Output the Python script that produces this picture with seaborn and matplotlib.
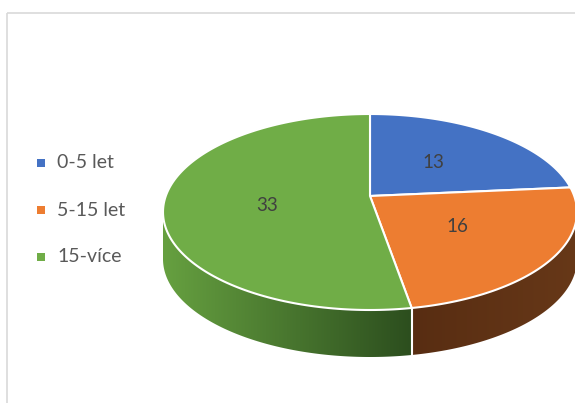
import numpy as np
import matplotlib
matplotlib.use("Agg")
import matplotlib.pyplot as plt
import seaborn as sns
from matplotlib.patches import Polygon, Rectangle
from matplotlib.colors import LinearSegmentedColormap

categories = ["0-5 let", "5-15 let", "15-více"]
values = [13, 16, 33]
top_colors = ["#4472C4", "#ED7D31", "#70AD47"]
side_colors = [("#2F528F", "#2F528F"), ("#582D12", "#673818"), ("#66A040", "#2C4E1E")]

sns.set_theme(style="white")
plt.rcParams["font.family"] = ["Lato", "DejaVu Sans"]

fig = plt.figure(figsize=(5.75, 4.03), dpi=100)
ax = fig.add_axes([0, 0, 1, 1])
ax.set_xlim(0, 575)
ax.set_ylim(403, 0)
ax.axis("off")

# chart frame
ax.add_patch(Rectangle((7, 13), 620, 440, fill=False, edgecolor="#D9D9D9", lw=1.2))

cx, cy, rx, ry, depth = 370, 212, 207, 98, 47
apex = (cx, cy - 16)


def pt(t, dy=0):
    t = np.radians(t)
    return cx + rx * np.sin(t), cy - ry * np.cos(t) + dy


total = sum(values)
bounds = np.concatenate([[0], np.cumsum(values) / total * 360])

# side walls (front half: 90..270 deg clockwise from top)
for i in range(len(values)):
    a0, a1 = max(bounds[i], 90), min(bounds[i + 1], 270)
    if a1 <= a0:
        continue
    ts = np.linspace(a0, a1, 120)
    top = [pt(t) for t in ts]
    bot = [pt(t, depth) for t in ts[::-1]]
    poly = Polygon(top + bot, closed=True, facecolor="none", edgecolor="none")
    ax.add_patch(poly)
    xs = [p[0] for p in top]
    cmap = LinearSegmentedColormap.from_list("s", list(side_colors[i]))
    grad = np.linspace(0, 1, 256).reshape(1, -1)
    im = ax.imshow(grad, cmap=cmap, aspect="auto",
                   extent=(min(xs), max(xs), max(p[1] for p in top) + depth + 2, min(p[1] for p in top) - 2),
                   zorder=2)
    im.set_clip_path(poly)
    ax.set_xlim(0, 575)
    ax.set_ylim(403, 0)

# white boundary lines on side
for b in bounds[1:-1]:
    if 90 < b < 270:
        x0, y0 = pt(b)
        ax.plot([x0, x0], [y0, y0 + depth], color="white", lw=1.5, zorder=3)

# top face
for i in range(len(values)):
    ts = np.linspace(bounds[i], bounds[i + 1], 150)
    pts = [apex] + [pt(t) for t in ts]
    ax.add_patch(Polygon(pts, closed=True, facecolor=top_colors[i], edgecolor="white",
                         lw=1.5, joinstyle="round", zorder=4))

# data labels
for i, v in enumerate(values):
    mid = (bounds[i] + bounds[i + 1]) / 2
    x, y = pt(mid)
    lx = apex[0] + 0.5 * (x - apex[0])
    ly = apex[1] + 0.5 * (y - apex[1]) - 3
    ax.text(lx, ly, str(v), fontsize=13.5, color="#404040", ha="center", va="center", zorder=5)

# legend
for i, c in enumerate(categories):
    y = 163 + i * 47
    ax.add_patch(Rectangle((37, y - 4), 8, 8, facecolor=top_colors[i], edgecolor="none"))
    ax.text(57, y, c, fontsize=14, color="#595959", va="center", ha="left")

fig.savefig("out.png", dpi=100)
